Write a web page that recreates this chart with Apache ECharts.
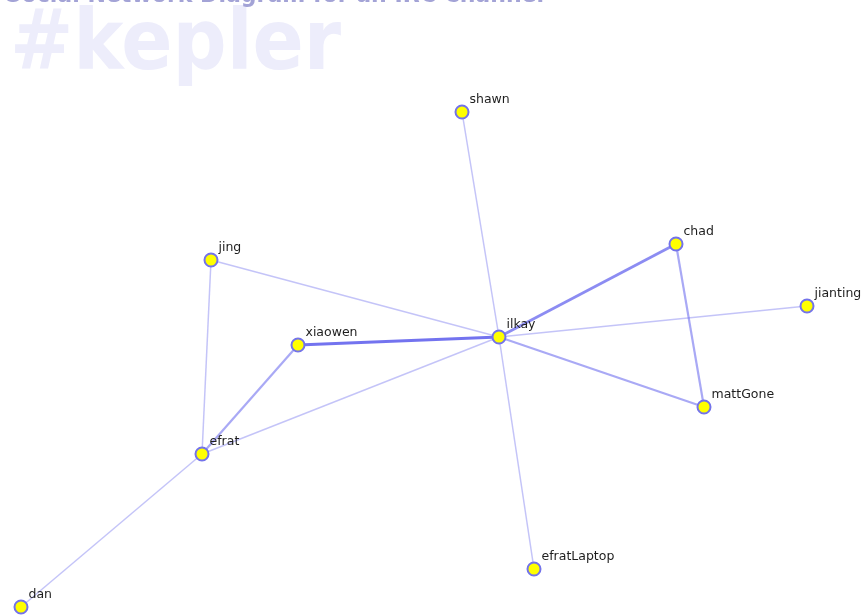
<!DOCTYPE html>
<html>
<head>
<meta charset="utf-8">
<script src="https://cdn.jsdelivr.net/npm/echarts@6/dist/echarts.min.js"></script>
<style>
  html, body { margin: 0; padding: 0; background: #fff; }
  #chart { width: 861px; height: 615px; }
</style>
</head>
<body>
<div id="chart"></div>
<script>
// nodes and their layout position (pixel space of the original diagram)
const names = ['shawn', 'jing', 'xiaowen', 'ilkay', 'chad', 'jianting', 'mattGone', 'efrat', 'dan', 'efratLaptop'];
const posX = [462, 211, 298, 499, 676, 807, 704, 202, 21, 534];
const posY = [112, 260, 345, 337, 244, 306, 407, 454, 607, 569];

// edges: source, target, weight (number of interactions)
const edgeFrom = ['shawn', 'jing', 'jing', 'xiaowen', 'xiaowen', 'efrat', 'efrat', 'ilkay', 'ilkay', 'ilkay', 'ilkay', 'chad'];
const edgeTo = ['ilkay', 'ilkay', 'efrat', 'ilkay', 'efrat', 'ilkay', 'dan', 'chad', 'jianting', 'mattGone', 'efratLaptop', 'mattGone'];
const edgeWeight = [1, 1, 1, 4, 2, 1, 1, 3, 1, 2, 1, 2];

const chart = echarts.init(document.getElementById('chart'));

// 权重 -> 线宽 / 透明度
const edgeStyle = (w) => ({
  width: [0, 1.5, 2.2, 2.8, 3.2][w],
  color: '#6b6bee',
  opacity: [0, 0.4, 0.58, 0.78, 0.95][w],
  curveness: 0,
});

const nodes = names.map((n, i) => ({ name: n, value: [posX[i], posY[i]] }));
const links = edgeFrom.map((s, i) => ({
  source: s,
  target: edgeTo[i],
  lineStyle: edgeStyle(edgeWeight[i]),
}));

const option = {
  animation: false,
  grid: { left: 0, right: 0, top: 0, bottom: 0 },
  xAxis: { type: 'value', min: 0, max: 861, show: false },
  yAxis: { type: 'value', min: 0, max: 615, inverse: true, show: false },
  graphic: [
    {
      type: 'text',
      left: 10,
      top: 5,
      z: 0,
      style: {
        text: '#kepler',
        fill: '#ededfb',
        font: 'bold 84px "DejaVu Sans Condensed"',
      },
    },
    {
      type: 'text',
      left: -19,
      top: -17,
      z: 0,
      style: {
        text: 'A Social Network Diagram for an IRC Channel',
        fill: '#a3a3d6',
        font: 'bold 24.5px "DejaVu Sans Condensed"',
      },
    },
  ],
  series: [
    {
      type: 'graph',
      coordinateSystem: 'cartesian2d',
      layout: 'none',
      symbol: 'circle',
      symbolSize: 13,
      itemStyle: {
        color: '#ffff00',
        borderColor: '#7373ea',
        borderWidth: 2,
      },
      label: {
        show: true,
        position: 'right',
        distance: 0,
        offset: [0, -12],
        color: '#1e1e1e',
        fontFamily: 'DejaVu Sans',
        fontSize: 12.5,
      },
      emphasis: { disabled: true },
      data: nodes,
      links: links,
    },
  ],
};

chart.setOption(option);
</script>
</body>
</html>
